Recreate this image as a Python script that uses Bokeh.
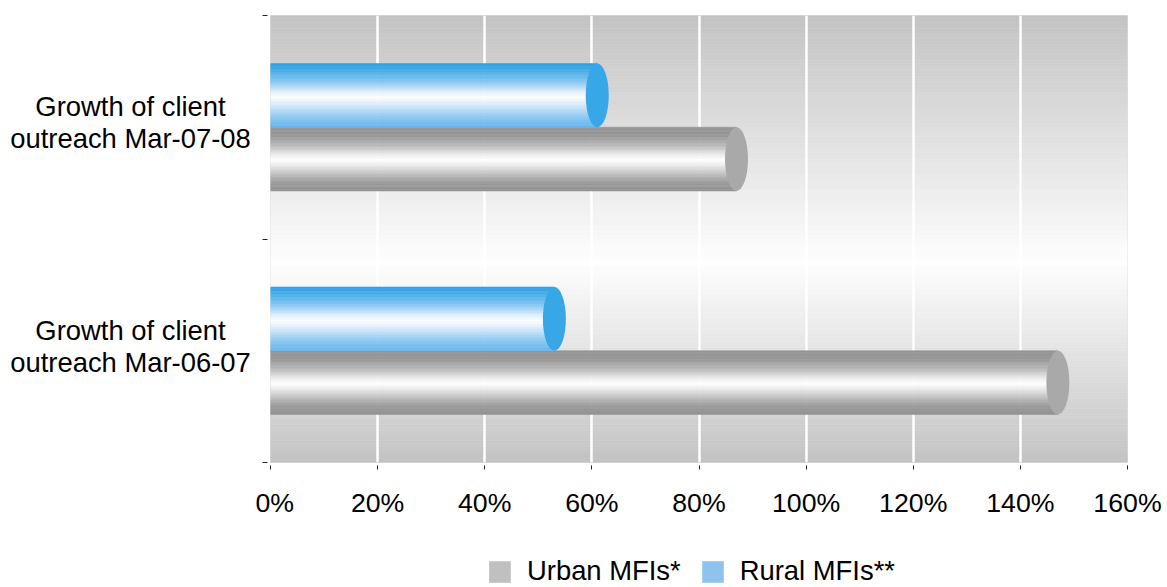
import numpy as np
from bokeh.plotting import figure
from bokeh.layouts import column, row
from bokeh.models import (ColumnDataSource, FixedTicker, PrintfTickFormatter,
                          Legend, LegendItem, Range1d)
from bokeh.core.properties import value
from bokeh.embed import file_html
from bokeh.resources import INLINE

# ---- data -------------------------------------------------------------
periods = ["Growth of client\noutreach Mar-06-07",
           "Growth of client\noutreach Mar-07-08"]
urban_growth = [147, 87]   # % growth, Urban MFIs*
rural_growth = [53, 61]    # % growth, Rural MFIs**
series_names = ["Urban MFIs*", "Rural MFIs**"]
x_ticks = [0, 20, 40, 60, 80, 100, 120, 140, 160]

# ---- style ------------------------------------------------------------
FONT = "Liberation Sans"
FS_TICK = "26.7px"
FS_TEXT = "27.4px"
BAR_H = 0.285            # bar thickness in category units
N_STRIPS = 44            # horizontal slices used to shade each cylinder
LABEL_W = 255            # width of the category-label column
LABEL_CX = 130           # horizontal centre of the category labels

BLUE_STOPS = [(0.00, (44, 161, 229)), (0.12, (72, 173, 234)), (0.30, (140, 200, 242)),
              (0.45, (226, 240, 252)), (0.54, (255, 255, 255)), (0.64, (222, 238, 251)),
              (0.82, (150, 205, 243)), (1.00, (102, 181, 237))]
GRAY_STOPS = [(0.00, (148, 148, 148)), (0.14, (152, 152, 152)), (0.30, (188, 188, 188)),
              (0.44, (238, 238, 238)), (0.52, (255, 255, 255)), (0.61, (234, 234, 234)),
              (0.76, (186, 186, 186)), (0.88, (153, 153, 153)), (1.00, (149, 149, 149))]


def hexcol(rgb):
    return "#%02x%02x%02x" % tuple(int(round(c)) for c in rgb)


def interp(stops, t):
    for (t0, c0), (t1, c1) in zip(stops[:-1], stops[1:]):
        if t <= t1:
            f = (t - t0) / (t1 - t0) if t1 > t0 else 0
            return [a + (b - a) * f for a, b in zip(c0, c1)]
    return stops[-1][1]


y_range = Range1d(0, 2)
TOP, BOTTOM = 15, 80

p = figure(width=1167 - LABEL_W, height=15 + 447 + BOTTOM,
           x_range=Range1d(0, 160), y_range=y_range,
           output_backend="svg", toolbar_location=None,
           min_border_left=270 - LABEL_W, min_border_right=40,
           min_border_top=TOP, min_border_bottom=BOTTOM)
p.background_fill_color = "white"
p.border_fill_color = "white"
p.outline_line_color = "#e2e2e2"
p.outline_line_width = 1

# ---- plot-area vertical gradient (light in the middle) -----------------
nb = 140
edges = np.linspace(0, 2, nb + 1)
bg_y = (edges[:-1] + edges[1:]) / 2
bg_cols = []
for yv in bg_y:
    t = (2 - yv) / 2
    peak = 0.55
    lev = 195 + 59 * t / peak if t < peak else 254 - 59 * (t - peak) / (1 - peak)
    bg_cols.append(hexcol((lev, lev, lev)))
p.hbar(y=bg_y, left=0, right=160, height=2 / nb, fill_color=bg_cols,
       line_color=bg_cols, line_width=0.6, level="image")

# ---- grid & axes --------------------------------------------------------
p.xgrid.ticker = FixedTicker(ticks=x_ticks)
p.xgrid.grid_line_color = "white"
p.xgrid.grid_line_width = 2.5
p.ygrid.visible = False

xa = p.xaxis[0]
xa.ticker = FixedTicker(ticks=x_ticks)
xa.formatter = PrintfTickFormatter(format="%d%%")
xa.axis_line_color = None
xa.major_tick_line_color = "#222222"
xa.major_tick_in = -3
xa.major_tick_out = 7
xa.minor_tick_line_color = None
xa.major_label_text_font = FONT
xa.major_label_text_font_size = FS_TICK
xa.major_label_text_color = "black"
xa.major_label_standoff = 18

ya = p.yaxis[0]
ya.ticker = FixedTicker(ticks=[0, 1, 2])
ya.major_label_overrides = {0: "", 1: "", 2: ""}
ya.major_label_standoff = 0
ya.axis_line_color = None
ya.major_tick_line_color = "#222222"
ya.major_tick_in = -3
ya.major_tick_out = 8
ya.minor_tick_line_color = None


# ---- cylinders ----------------------------------------------------------
def cylinder(values, offset, stops, cap_color):
    ys, rights, cols = [], [], []
    sh = BAR_H / N_STRIPS
    for i, v in enumerate(values):
        center = i + 0.5 + offset
        top = center + BAR_H / 2
        for k in range(N_STRIPS):
            t = (k + 0.5) / N_STRIPS
            ys.append(top - (k + 0.5) * sh)
            rights.append(v)
            cols.append(hexcol(interp(stops, t)))
    src = ColumnDataSource(dict(y=ys, right=rights, color=cols))
    p.hbar(y="y", left=0, right="right", height=sh, fill_color="color",
           line_color="color", line_width=0.6, source=src)
    p.ellipse(x=values, y=[i + 0.5 + offset for i in range(len(values))],
              width=23, width_units="screen", height=BAR_H,
              fill_color=cap_color, line_color=None)


cylinder(urban_growth, -BAR_H / 2, GRAY_STOPS, "#a9a9a9")
cylinder(rural_growth, BAR_H / 2, BLUE_STOPS, "#37a7e8")

# ---- category label column ---------------------------------------------
lab = figure(width=LABEL_W, height=15 + 447 + BOTTOM,
             x_range=Range1d(0, LABEL_W), y_range=y_range,
             output_backend="svg", toolbar_location=None,
             x_axis_location=None, y_axis_location=None,
             min_border_left=0, min_border_right=0,
             min_border_top=TOP, min_border_bottom=BOTTOM)
lab.outline_line_color = None
lab.grid.visible = False
lab.background_fill_color = "white"
lab.border_fill_color = "white"
lab.text(x=[LABEL_CX] * len(periods), y=[i + 0.52 for i in range(len(periods))],
         text=periods, text_align="center", text_baseline="middle",
         text_font=value(FONT), text_font_size=FS_TEXT, text_color="black",
         text_line_height=1.03)

# ---- legend strip -------------------------------------------------------
leg_h = 587 - (15 + 447 + BOTTOM)
lg = figure(width=1167, height=leg_h, x_range=Range1d(0, 1), y_range=Range1d(0, 1),
            output_backend="svg", toolbar_location=None,
            x_axis_location=None, y_axis_location=None,
            min_border_left=0, min_border_right=0, min_border_top=0, min_border_bottom=0)
lg.outline_line_color = None
lg.grid.visible = False
lg.background_fill_color = "white"
lg.border_fill_color = "white"
# legend swatches (placed outside the visible range)
r_urban = lg.rect(x=[-5], y=[-5], width=1, height=1, fill_color="#c0c0c0", line_color=None)
r_rural = lg.rect(x=[-5], y=[-5], width=1, height=1, fill_color="#8dc3ee", line_color=None)
legend = Legend(items=[LegendItem(label=series_names[0], renderers=[r_urban]),
                       LegendItem(label=series_names[1], renderers=[r_rural])],
                orientation="horizontal", location=(486, 0),
                glyph_width=27, glyph_height=27, label_standoff=14, spacing=18,
                padding=0, margin=0, border_line_color=None, background_fill_alpha=0,
                label_text_font=FONT, label_text_font_size=FS_TEXT, label_text_color="black")
lg.add_layout(legend)

layout = column(row(lab, p), lg)
open("out.html", "w").write(file_html(layout, INLINE))
